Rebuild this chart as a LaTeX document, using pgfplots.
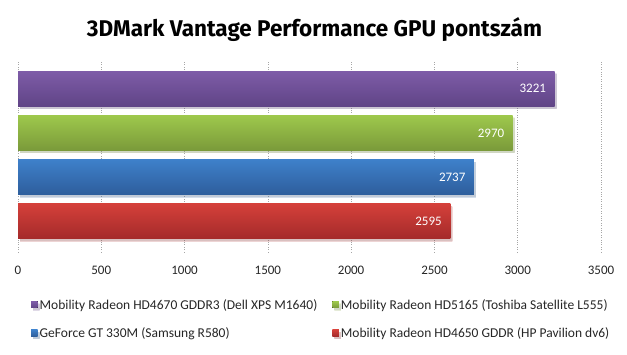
\documentclass[border=0pt]{standalone}
\usepackage{pgfplots}
\pgfplotsset{compat=1.18}
\usetikzlibrary{shadows}
\usepackage{fontspec}
\setmainfont{Carlito}
\newfontfamily\titlefont{Fira Sans}
\definecolor{pTop}{RGB}{126,92,168}
\definecolor{pBot}{RGB}{96,68,134}
\definecolor{gTop}{RGB}{158,200,76}
\definecolor{gBot}{RGB}{122,154,58}
\definecolor{bTop}{RGB}{62,128,202}
\definecolor{bBot}{RGB}{46,94,156}
\definecolor{rTop}{RGB}{212,64,58}
\definecolor{rBot}{RGB}{164,42,42}
\begin{document}
\begin{tikzpicture}
\path[use as bounding box] (0,0) rectangle (627pt,354pt);
\begin{axis}[
  at={(18pt,102pt)}, anchor=south west,
  scale only axis, width=583pt, height=190pt,
  xmin=0, xmax=3500, ymin=-0.69, ymax=3.6,
  xtick={0,500,...,3500}, ytick=\empty,
  xmajorgrids,
  major grid style={gray!70, dotted, line width=0.6pt},
  axis line style={draw=none},
  major tick length=0pt,
  tick label style={font=\fontsize{13}{15}\selectfont, text=black!85},
  /pgf/number format/assume math mode=true,
  /pgf/number format/1000 sep={},
  xticklabel style={yshift=-11pt},
  xbar, bar width=35pt, bar shift=0pt,
  nodes near coords, point meta=x,
  nodes near coords style={anchor=east, text=white, font=\fontsize{13}{15}\selectfont, xshift=-5pt, /pgf/number format/1000 sep={}},
  legend columns=2,
  legend cell align=left,
  legend image code/.code={\fill[#1] (0pt,-3pt) rectangle (6.5pt,3.5pt);},
  legend style={at={(0,0)}, anchor=north west, xshift=13pt, yshift=-45pt, draw=none, fill=none,
    font=\fontsize{13.5}{15}\selectfont, text=black!85, inner sep=0pt,
    row sep=13pt, /tikz/every even column/.append style={column sep=13pt}},
  shd/.style={drop shadow={opacity=0.2, shadow xshift=2pt, shadow yshift=-2.5pt}},
]
\addplot[draw=none, top color=pTop, bottom color=pBot, shd] coordinates {(3221,3)};
\addlegendentry{Mobility Radeon HD4670 GDDR3 (Dell XPS M1640)}
\addplot[draw=none, top color=gTop, bottom color=gBot, shd] coordinates {(2970,2)};
\addlegendentry{Mobility Radeon HD5165 (Toshiba Satellite L555)}
\addplot[draw=none, top color=bTop, bottom color=bBot, shd] coordinates {(2737,1)};
\addlegendentry{GeForce GT 330M (Samsung R580)}
\addplot[draw=none, top color=rTop, bottom color=rBot, shd] coordinates {(2595,0)};
\addlegendentry{Mobility Radeon HD4650 GDDR (HP Pavilion dv6)}
\end{axis}
\node[anchor=base, inner sep=0pt] at (314.5pt,317pt) {\resizebox{455pt}{19pt}{\titlefont\bfseries 3DMark Vantage Performance GPU pontszám}};
\end{tikzpicture}
\end{document}
